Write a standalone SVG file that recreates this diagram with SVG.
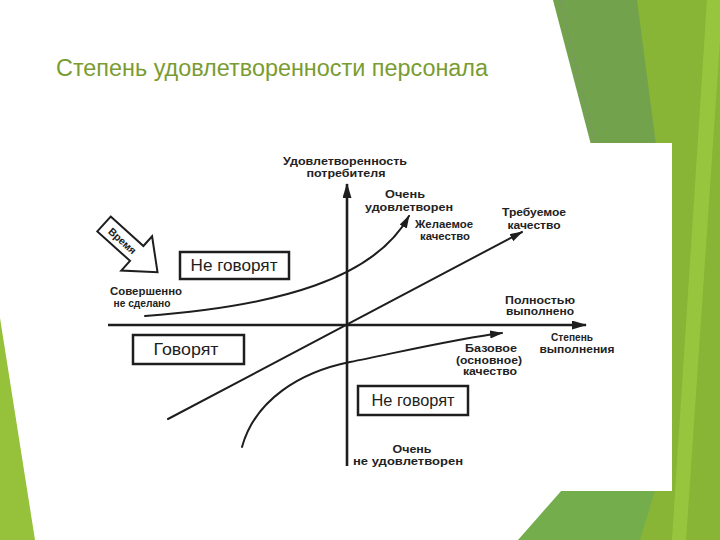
<svg xmlns="http://www.w3.org/2000/svg" width="720" height="540" viewBox="0 0 720 540">
<defs>
<style>
.lbl{font-family:"Liberation Sans",Arial,sans-serif;font-weight:bold;font-size:10px;fill:#222;text-anchor:middle}
.box{fill:#fff;stroke:#1e1e1e;stroke-width:2.5}
.btxt{font-family:"Liberation Sans",Arial,sans-serif;font-size:16px;fill:#1e1e1e;text-anchor:middle}
.ln{fill:none;stroke:#1e1e1e;stroke-width:2;stroke-linecap:round}
.ax{fill:none;stroke:#1e1e1e;stroke-width:2.6}
</style>
<marker id="ah" markerUnits="userSpaceOnUse" markerWidth="16" markerHeight="10" refX="14" refY="4.5" orient="auto">
<path d="M0,0 L15,4.5 L0,9 z" fill="#1e1e1e"/>
</marker>
<marker id="ahs" markerUnits="userSpaceOnUse" markerWidth="14" markerHeight="10" refX="12" refY="4" orient="auto">
<path d="M0,0 L13,4 L0,8 z" fill="#1e1e1e"/>
</marker>
</defs>
<rect width="720" height="540" fill="#fff"/>
<g id="background">
<polygon points="600,0 720,0 720,540 630,540" fill="#88b535"/>
<polygon points="553,0 637,0 658,160 595,160" fill="#72a24c"/>
<line x1="560" y1="0" x2="595" y2="143" stroke="#8a8a8a" stroke-width="0.7" opacity="0.6"/>
<polygon points="707,0 720,0 720,40 686,540 672,540" fill="#97c63e"/>
<polygon points="562,490 655,490 640,540 518,540" fill="#74ad4c"/>
<polygon points="0,318 35,540 0,540" fill="#95c13b"/>
<rect x="90" y="143" width="582" height="348" fill="#fff"/>
</g>
<text id="title" x="56" y="76" font-family="Liberation Sans, Arial, sans-serif" font-size="23" fill="#7a9c31" textLength="432" lengthAdjust="spacingAndGlyphs">Степень удовлетворенности персонала</text>
<g id="connectors">
<line class="ax" x1="347" y1="466" x2="347" y2="184" marker-end="url(#ah)"/>
<line class="ax" x1="108" y1="325" x2="586" y2="325" marker-end="url(#ah)"/>
<line class="ln" x1="168" y1="419" x2="522" y2="232" marker-end="url(#ahs)"/>
<path class="ln" d="M145,316 C280,306 375,278 409,216" marker-end="url(#ahs)"/>
<path class="ln" d="M242,447 C255,400 300,372 350,362 S460,338 502,333" marker-end="url(#ahs)"/>
</g>
<g id="time-arrow">
<g transform="translate(104,224) rotate(42)">
<polygon points="0,-10 44,-10 44,-23 72,0 44,23 44,10 0,10" fill="#fff" stroke="#1e1e1e" stroke-width="2"/>
<text x="25" y="4" font-family="Liberation Sans, Arial, sans-serif" font-weight="bold" font-size="10.5" fill="#1e1e1e" text-anchor="middle">Время</text>
</g>
</g>
<g id="box-ne-govoryat-top">
<rect class="box" x="180" y="252" width="109" height="27"/>
<text class="btxt" x="234" y="271" textLength="87" lengthAdjust="spacingAndGlyphs">Не говорят</text>
</g>
<g id="box-govoryat">
<rect class="box" x="133" y="335" width="111" height="29"/>
<text class="btxt" x="186" y="355" textLength="65" lengthAdjust="spacingAndGlyphs">Говорят</text>
</g>
<g id="box-ne-govoryat-bottom">
<rect class="box" x="358" y="386" width="110" height="29"/>
<text class="btxt" x="413" y="406" textLength="83" lengthAdjust="spacingAndGlyphs">Не говорят</text>
</g>
<g id="label-y-axis">
<text class="lbl" x="345" y="165" textLength="124" lengthAdjust="spacingAndGlyphs">Удовлетворенность</text>
<text class="lbl" x="346" y="177" textLength="79" lengthAdjust="spacingAndGlyphs">потребителя</text>
</g>
<g id="label-very-satisfied">
<text class="lbl" x="405" y="198" textLength="40" lengthAdjust="spacingAndGlyphs">Очень</text>
<text class="lbl" x="409" y="211" textLength="88" lengthAdjust="spacingAndGlyphs">удовлетворен</text>
</g>
<g id="label-desired">
<text class="lbl" x="444" y="228" textLength="58" lengthAdjust="spacingAndGlyphs">Желаемое</text>
<text class="lbl" x="445" y="240" textLength="50" lengthAdjust="spacingAndGlyphs">качество</text>
</g>
<g id="label-required">
<text class="lbl" x="534" y="216" textLength="64" lengthAdjust="spacingAndGlyphs">Требуемое</text>
<text class="lbl" x="534" y="229" textLength="53" lengthAdjust="spacingAndGlyphs">качество</text>
</g>
<g id="label-fully-done">
<text class="lbl" x="540" y="304" textLength="70" lengthAdjust="spacingAndGlyphs">Полностью</text>
<text class="lbl" x="540" y="315" textLength="68" lengthAdjust="spacingAndGlyphs">выполнено</text>
</g>
<g id="label-x-axis">
<text class="lbl" x="572" y="341" textLength="42" lengthAdjust="spacingAndGlyphs">Степень</text>
<text class="lbl" x="577" y="353" textLength="75" lengthAdjust="spacingAndGlyphs">выполнения</text>
</g>
<g id="label-basic">
<text class="lbl" x="491" y="352" textLength="52" lengthAdjust="spacingAndGlyphs">Базовое</text>
<text class="lbl" x="489" y="364" textLength="66" lengthAdjust="spacingAndGlyphs">(основное)</text>
<text class="lbl" x="490" y="375" textLength="54" lengthAdjust="spacingAndGlyphs">качество</text>
</g>
<g id="label-not-done">
<text class="lbl" x="146" y="295" textLength="72" lengthAdjust="spacingAndGlyphs">Совершенно</text>
<text class="lbl" x="142" y="307" textLength="57" lengthAdjust="spacingAndGlyphs">не сделано</text>
</g>
<g id="label-very-dissatisfied">
<text class="lbl" x="412" y="453" textLength="39" lengthAdjust="spacingAndGlyphs">Очень</text>
<text class="lbl" x="408" y="465" textLength="110" lengthAdjust="spacingAndGlyphs">не удовлетворен</text>
</g>
</svg>
